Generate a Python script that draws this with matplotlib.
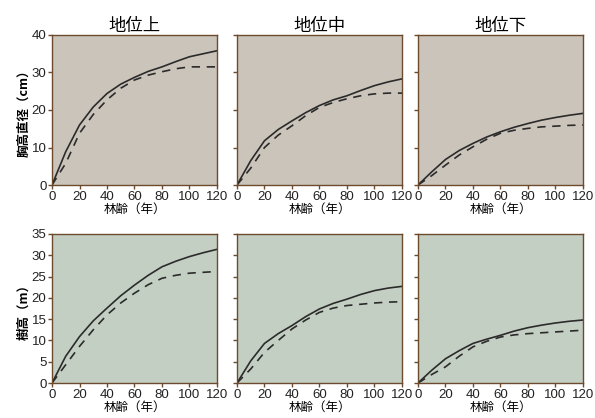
import numpy as np
import matplotlib
matplotlib.use('Agg')
import matplotlib.pyplot as plt

plt.rcParams['font.family'] = ['Noto Sans CJK JP', 'DejaVu Sans']

age = [0, 10, 20, 30, 40, 50, 60, 70, 80, 90, 100, 110, 120]
titles = ["地位上", "地位中", "地位下"]

# 胸高直径 (cm): solid / dashed for each site class
dbh_solid = [
    [0, 8.9, 16.0, 20.8, 24.4, 26.9, 28.7, 30.3, 31.5, 32.9, 34.2, 35.0, 35.8],
    [0, 6.5, 11.8, 14.8, 17.1, 19.3, 21.2, 22.7, 23.8, 25.2, 26.5, 27.5, 28.3],
    [0, 3.5, 6.8, 9.2, 11.1, 12.8, 14.2, 15.4, 16.4, 17.3, 18.0, 18.6, 19.1],
]
dbh_dashed = [
    [0, 5.8, 13.8, 18.8, 22.7, 25.8, 28.0, 29.3, 30.2, 31.0, 31.5, 31.5, 31.5],
    [0, 4.5, 10.0, 13.3, 15.8, 18.5, 20.7, 22.0, 23.0, 23.8, 24.3, 24.5, 24.5],
    [0, 2.5, 5.3, 8.0, 10.2, 12.2, 13.8, 14.6, 15.1, 15.5, 15.7, 15.9, 16.0],
]
# 樹高 (m)
ht_solid = [
    [0, 6.3, 10.9, 14.6, 17.6, 20.5, 23.0, 25.3, 27.3, 28.6, 29.7, 30.6, 31.4],
    [0, 5.2, 9.3, 11.6, 13.5, 15.6, 17.4, 18.7, 19.7, 20.8, 21.7, 22.3, 22.7],
    [0, 3.0, 5.7, 7.6, 9.3, 10.3, 11.2, 12.2, 13.0, 13.6, 14.1, 14.5, 14.8],
]
ht_dashed = [
    [0, 4.3, 8.6, 12.5, 16.0, 18.8, 21.1, 23.1, 24.6, 25.3, 25.8, 26.0, 26.2],
    [0, 3.3, 7.2, 10.0, 12.7, 14.8, 16.6, 17.6, 18.2, 18.5, 18.8, 19.0, 19.1],
    [0, 2.0, 3.8, 6.3, 8.5, 9.8, 10.8, 11.3, 11.6, 11.8, 12.0, 12.2, 12.4],
]

fig = plt.figure(figsize=(5.95, 4.18), dpi=100)
fig.patch.set_facecolor('white')

lefts = [0.0874, 0.3983, 0.7025]
w = 0.2773
rows = [
    dict(bottom=0.5574, h=0.3589, bg='#cbc4ba', ymax=40, yticks=range(0, 41, 10),
         ylabel="胸高直径（cm）", solid=dbh_solid, dashed=dbh_dashed),
    dict(bottom=0.0837, h=0.3565, bg='#c4cfc3', ymax=35, yticks=range(0, 36, 5),
         ylabel="樹高（m）", solid=ht_solid, dashed=ht_dashed),
]

spine_col = '#6b4a2e'
line_col = '#2b2b2b'

for r, row in enumerate(rows):
    for c in range(3):
        ax = fig.add_axes([lefts[c], row['bottom'], w, row['h']])
        ax.set_facecolor(row['bg'])
        ax.plot(age, row['solid'][c], color=line_col, linewidth=1.2)
        ax.plot(age, row['dashed'][c], color=line_col, linewidth=1.2,
                linestyle=(0, (5, 4)))
        ax.set_xlim(0, 120)
        ax.set_ylim(0, row['ymax'])
        ax.set_xticks(range(0, 121, 20))
        ax.set_yticks(list(row['yticks']))
        for s in ax.spines.values():
            s.set_color(spine_col)
            s.set_linewidth(1.0)
        ax.tick_params(direction='out', length=3, width=1, colors=spine_col,
                       labelcolor='#222222', labelsize=9.5, pad=1)
        for lab in ax.get_xticklabels() + ax.get_yticklabels():
            lab.set_family(['Liberation Sans', 'DejaVu Sans'])
        if c > 0:
            ax.set_yticklabels([])
        else:
            ax.set_ylabel(row['ylabel'], fontsize=9, labelpad=1, fontweight='bold')
        ax.set_xlabel("林齢（年）", fontsize=9, labelpad=0)
        if r == 0:
            ax.set_title(titles[c], fontsize=12.5, pad=2)

fig.savefig("out.png", dpi=100)
